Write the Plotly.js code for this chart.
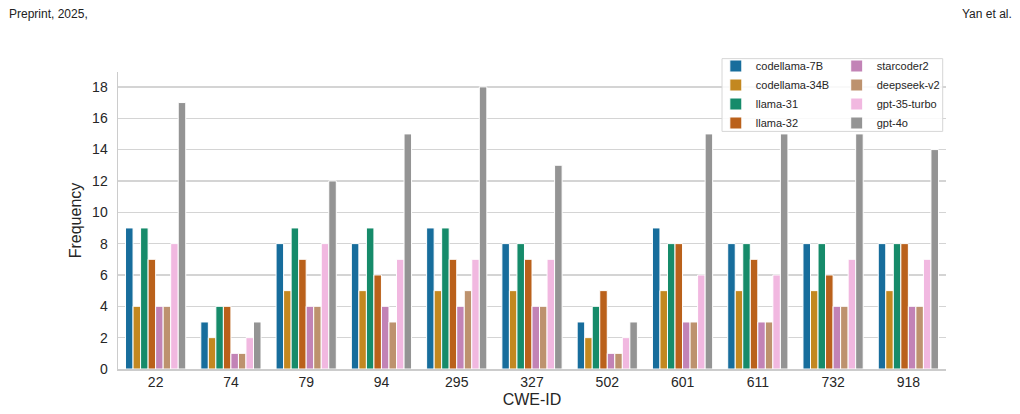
<!DOCTYPE html>
<html>
<head>
<meta charset="utf-8">
<script src="https://cdn.plot.ly/plotly-3.0.1.min.js"></script>
<style>
  body { margin: 0; background: #fff; }
  #chart { width: 1020px; height: 414px; }
</style>
</head>
<body>
<div id="chart"></div>
<script>
// CWE ids on the x axis
const cweIds = ['22', '74', '79', '94', '295', '327', '502', '601', '611', '732', '918'];

// frequency per model, one value per CWE id
const codellama7B  = [9, 3, 8, 8, 9, 8, 3, 9, 8, 8, 8];
const codellama34B = [4, 2, 5, 5, 5, 5, 2, 5, 5, 5, 5];
const llama31      = [9, 4, 9, 9, 9, 8, 4, 8, 8, 8, 8];
const llama32      = [7, 4, 7, 6, 7, 7, 5, 8, 7, 6, 8];
const starcoder2   = [4, 1, 4, 4, 4, 4, 1, 3, 3, 4, 4];
const deepseekV2   = [4, 1, 4, 3, 5, 4, 1, 3, 3, 4, 4];
const gpt35turbo   = [8, 2, 8, 7, 7, 7, 2, 6, 6, 7, 7];
const gpt4o        = [17, 3, 12, 15, 18, 13, 3, 15, 15, 15, 14];

const modelNames = ['codellama-7B', 'codellama-34B', 'llama-31', 'llama-32',
                    'starcoder2', 'deepseek-v2', 'gpt-35-turbo', 'gpt-4o'];
const modelValues = [codellama7B, codellama34B, llama31, llama32,
                     starcoder2, deepseekV2, gpt35turbo, gpt4o];
// seaborn colorblind palette, desaturated like barplot does
const modelColors = ['#176d9c', '#c38820', '#168b6a', '#ba611b',
                     '#c283b6', '#bd926e', '#f1b8e0', '#949494'];

const txt = '#262626';

// first four models in the left legend column, the rest in the right one
const traces = modelNames.map((name, i) => ({
  type: 'bar',
  name: name,
  x: cweIds,
  y: modelValues[i],
  legend: i < 4 ? 'legend' : 'legend2',
  marker: { color: modelColors[i], line: { color: '#ffffff', width: 1 } }
}));

const legendStyle = {
  orientation: 'v',
  yanchor: 'top',
  y: 1.069,
  xanchor: 'left',
  bgcolor: 'rgba(0,0,0,0)',
  borderwidth: 0,
  font: { size: 11, color: txt },
  traceorder: 'normal'
};

const headerFont = { family: 'Liberation Sans, Arial, sans-serif', size: 12, color: '#222' };

const layout = {
  width: 1020,
  height: 414,
  margin: { l: 118, r: 74, t: 72, b: 45 },
  paper_bgcolor: '#ffffff',
  plot_bgcolor: '#ffffff',
  font: { family: 'Liberation Sans, Arial, sans-serif', color: txt },
  barmode: 'group',
  bargap: 0.2,
  bargroupgap: 0,
  showlegend: true,
  legend: Object.assign({}, legendStyle, { x: 0.722 }),
  legend2: Object.assign({}, legendStyle, { x: 0.868 }),
  xaxis: {
    type: 'category',
    range: [-0.5, 10.5],
    showgrid: false,
    showline: true,
    linecolor: '#cccccc',
    linewidth: 1.5,
    ticks: '',
    tickfont: { size: 14, color: txt },
    title: { text: 'CWE-ID', font: { size: 16, color: txt }, standoff: 4 }
  },
  yaxis: {
    range: [0, 18.95],
    dtick: 2,
    showgrid: true,
    gridcolor: '#d4d4d4',
    gridwidth: 1.3,
    zeroline: false,
    showline: true,
    linecolor: '#cccccc',
    linewidth: 1.5,
    ticks: '',
    ticklabelstandoff: 6,
    tickfont: { size: 14, color: txt },
    title: { text: 'Frequency', font: { size: 16, color: txt }, standoff: 6 }
  },
  shapes: [
    // frame shared by both legend columns
    { type: 'rect', xref: 'paper', yref: 'paper', layer: 'above',
      x0: 0.7295, x1: 0.996, y0: 0.80, y1: 1.045,
      fillcolor: 'rgba(255,255,255,0.85)',
      line: { color: '#d6d6d6', width: 1 } }
  ],
  annotations: [
    { text: 'Preprint, 2025,', xref: 'paper', yref: 'paper', x: -0.134, y: 1.195,
      xanchor: 'left', yanchor: 'middle', showarrow: false, font: headerFont },
    { text: 'Yan et al.', xref: 'paper', yref: 'paper', x: 1.082, y: 1.195,
      xanchor: 'right', yanchor: 'middle', showarrow: false, font: headerFont }
  ]
};

Plotly.newPlot('chart', traces, layout, { staticPlot: true });
</script>
</body>
</html>
